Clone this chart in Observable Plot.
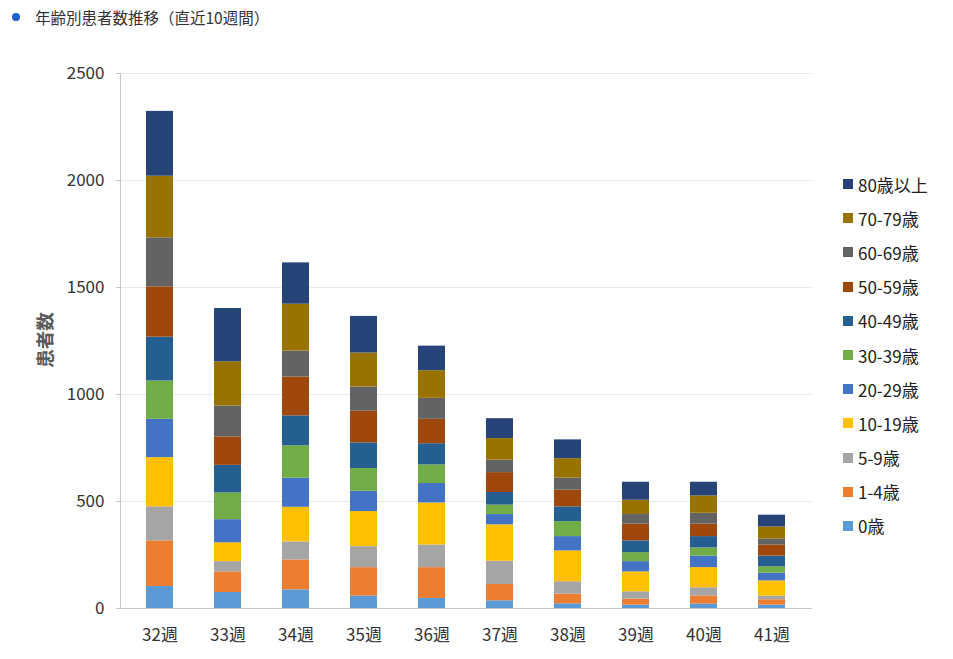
<!DOCTYPE html>
<html>
<head>
<meta charset="utf-8">
<script src="https://cdn.jsdelivr.net/npm/d3@7"></script>
<script src="https://cdn.jsdelivr.net/npm/@observablehq/plot@0.6"></script>
<style>
  body { margin: 0; background: #fff; font-family: "Noto Sans CJK JP", "Noto Sans", sans-serif; }
  #wrap { position: relative; width: 953px; height: 659px; }
  #title { height: 30px; display: flex; align-items: center; font-size: 15.5px; color: #333; padding-left: 12px; box-sizing: border-box; padding-top: 3px; }
  #title .dot { width: 8px; height: 8px; border-radius: 50%; background: #1f5fc8; margin-right: 15px; }
  #legend { position: absolute; left: 843px; top: 167px; }
  #legend .item { display: flex; align-items: center; height: 34.2px; font-size: 17px; color: #222; }
  #legend .sw { width: 10px; height: 10px; margin-right: 5px; }
  #ylabel { position: absolute; left: 44px; top: 340px; transform: translate(-50%, -50%) rotate(-90deg); font-weight: bold; font-size: 18.5px; color: #595959; white-space: nowrap; }
</style>
</head>
<body>
<div id="wrap">
  <div id="title"><span class="dot"></span>年齢別患者数推移（直近10週間）</div>
  <div id="chart"></div>
  <div id="ylabel">患者数</div>
  <div id="legend"></div>
</div>
<script>
const weeks = ["32週","33週","34週","35週","36週","37週","38週","39週","40週","41週"];
const ages = ["0歳","1-4歳","5-9歳","10-19歳","20-29歳","30-39歳","40-49歳","50-59歳","60-69歳","70-79歳","80歳以上"];
const colors = ["#5B9BD5","#ED7D31","#A5A5A5","#FFC000","#4472C4","#70AD47","#255E91","#9E480E","#636363","#997300","#264478"];
const yTicks = [0, 500, 1000, 1500, 2000, 2500];

// values per age group, one per week (32週..41週)
const age0    = [103, 75, 87, 58, 47, 36, 22, 16, 21, 16];
const age1_4  = [213, 96, 140, 133, 144, 76, 45, 28, 38, 25];
const age5_9  = [159, 48, 84, 98, 106, 109, 58, 34, 38, 17];
const age10   = [230, 88, 162, 164, 196, 170, 144, 93, 94, 71];
const age20   = [179, 108, 136, 95, 91, 48, 67, 48, 54, 36];
const age30   = [179, 125, 151, 106, 87, 44, 70, 42, 38, 30];
const age40   = [205, 129, 140, 120, 99, 59, 69, 55, 53, 50];
const age50   = [235, 133, 182, 148, 114, 93, 78, 78, 58, 52];
const age60   = [229, 144, 121, 113, 98, 58, 56, 45, 51, 27];
const age70   = [288, 207, 219, 159, 129, 101, 91, 67, 81, 57];
const age80   = [303, 249, 193, 171, 115, 93, 88, 84, 64, 55];

const series = [age0, age1_4, age5_9, age10, age20, age30, age40, age50, age60, age70, age80];
const data = [];
ages.forEach((a, i) => weeks.forEach((w, j) => data.push({week: w, age: a, value: series[i][j]})));

const chart = Plot.plot({
  width: 953,
  height: 629,
  marginLeft: 120,
  marginRight: 141,
  marginTop: 43,
  marginBottom: 51,
  style: { fontFamily: '"Noto Sans CJK JP", "Noto Sans", sans-serif', fontSize: "17px", color: "#333", background: "#fff" },
  x: { domain: weeks, paddingInner: 0.6, paddingOuter: 0.32, label: null },
  y: { domain: [0, 2500], label: null },
  color: { domain: ages, range: colors },
  marks: [
    Plot.gridY(yTicks, { stroke: "#e9e9e9", strokeOpacity: 1 }),
    Plot.barY(data, { x: "week", y: "value", fill: "age", order: ages }),
    Plot.ruleY([0], { stroke: "#c8c8c8", insetLeft: -4 }),
    Plot.frame({ anchor: "left", stroke: "#c8c8c8" }),
    Plot.axisY(yTicks, { tickSize: 4, tickPadding: 12, stroke: "#c8c8c8", fontSize: 17, fill: "#333", label: null, tickFormat: d => String(d) }),
    Plot.axisX({ tickSize: 0, tickPadding: 20, fontSize: 17, fill: "#333", label: null })
  ]
});
document.getElementById("chart").appendChild(chart);

const legend = document.getElementById("legend");
for (let i = ages.length - 1; i >= 0; i--) {
  const it = document.createElement("div");
  it.className = "item";
  it.innerHTML = `<span class="sw" style="background:${colors[i]}"></span>${ages[i]}`;
  legend.appendChild(it);
}
</script>
</body>
</html>
